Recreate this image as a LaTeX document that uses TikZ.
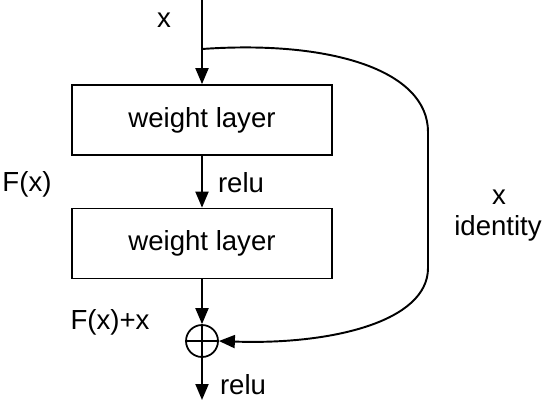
\documentclass[tikz,border=0pt]{standalone}
\usepackage{fontspec}
\setmainfont{Liberation Sans}
\usetikzlibrary{arrows.meta,positioning}

\begin{document}
\begin{tikzpicture}[
  x=0.02cm, y=-0.02cm,
  layer/.style={
    draw,
    minimum width=5.2cm,
    minimum height=1.4cm,
    line width=1pt,
    inner sep=0pt
  },
  sumnode/.style={
    draw,
    circle,
    minimum size=0.64cm,
    inner sep=0pt,
    line width=1pt,
    path picture={
      \draw[line width=1pt] (path picture bounding box.west) -- (path picture bounding box.east);
      \draw[line width=1pt] (path picture bounding box.north) -- (path picture bounding box.south);
    }
  },
  flow/.style={-{Triangle[length=0.32cm,width=0.26cm]}, line width=1.1pt},
  textlabel/.style={inner sep=0pt},
  font=\fontsize{15.7}{18}\selectfont
]
\useasboundingbox (0,0) rectangle (550,406);
\def\XMain{202}
\coordinate (in) at (\XMain,0);
\coordinate (split) at (\XMain,49);
\node[layer] (wl1) at (\XMain,120) {weight layer};
\node[layer] (wl2) at (\XMain,243.5) {weight layer};
\node[sumnode] (sum) at (\XMain,341) {};
\coordinate (out) at (\XMain,400);

\draw[flow] (in) -- (wl1.north);
\draw[flow] (wl1.south) -- (wl2.north);
\draw[flow] (wl2.south) -- (sum.north);
\draw[flow] (sum.south) -- (out);
\draw[flow] (split) .. controls (330,40) and (428,70) .. (428,132)
  -- (428,268) .. controls (428,322) and (330,345) .. (sum.east);

\node[textlabel] (xin) at (164,20) {x};
\node[textlabel] (relu1) at (241,183) {relu};
\node[textlabel] (fx) at (27,184) {F(x)};
\node[textlabel] (fxx) at (110,322) {F(x)+x};
\node[textlabel] (relu2) at (243,385) {relu};
\node[textlabel] (xid) at (499,197) {x};
\node[textlabel] (ident) at (498,228) {identity};
\end{tikzpicture}
\end{document}
